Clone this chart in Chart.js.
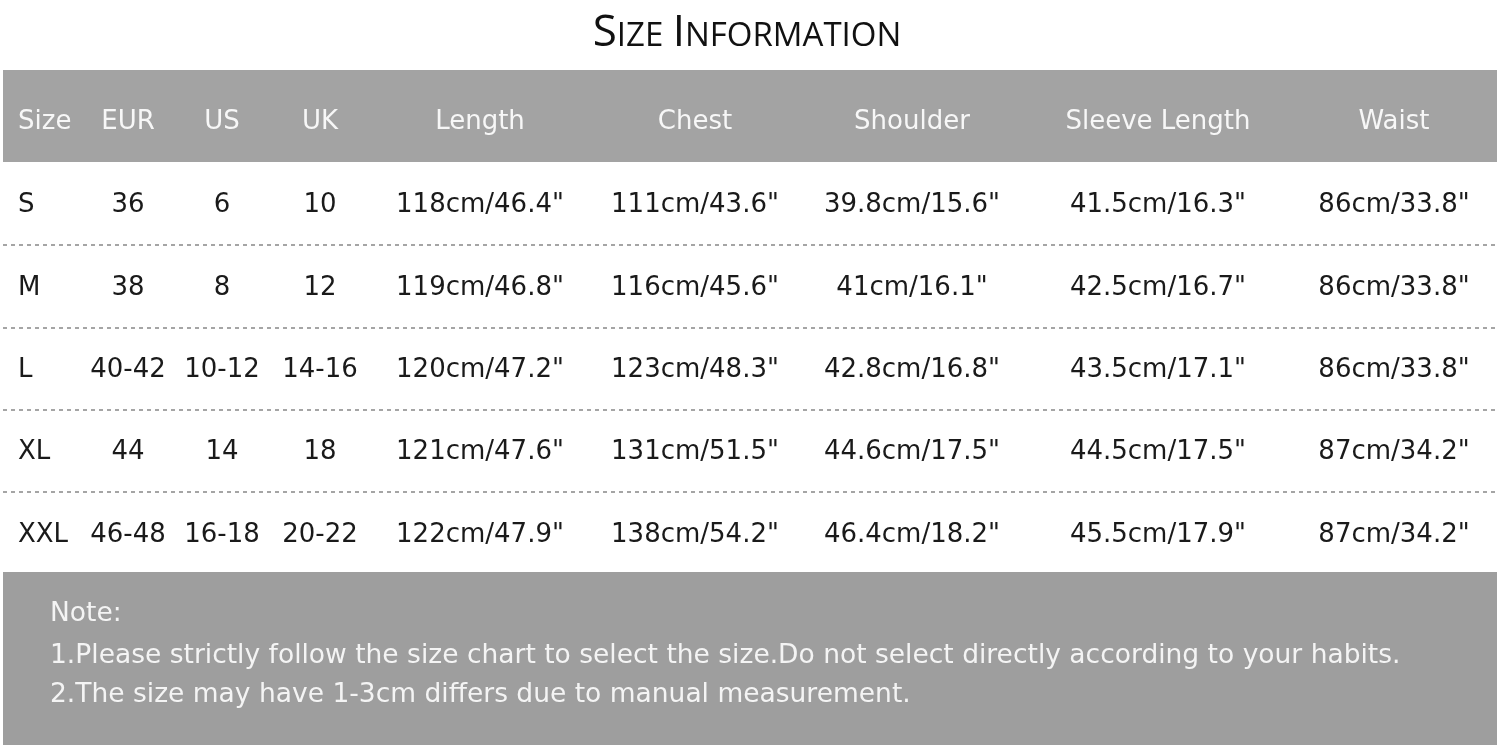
<!DOCTYPE html>
<html><head><meta charset="utf-8">
<script src="https://cdn.jsdelivr.net/npm/chart.js@4"></script>
<style>html,body{margin:0;padding:0;background:#fff}#c{display:block}</style>
</head><body>
<div style="width:1500px;height:749px"><canvas id="c"></canvas></div>
<script>
const title = "Size Information";
const headers = ["Size","EUR","US","UK","Length","Chest","Shoulder","Sleeve Length","Waist"];
const sizes = ["S","M","L","XL","XXL"];
const eur = ["36","38","40-42","44","46-48"];
const us = ["6","8","10-12","14","16-18"];
const uk = ["10","12","14-16","18","20-22"];
const lengthCol = ['118cm/46.4"','119cm/46.8"','120cm/47.2"','121cm/47.6"','122cm/47.9"'];
const chest = ['111cm/43.6"','116cm/45.6"','123cm/48.3"','131cm/51.5"','138cm/54.2"'];
const shoulder = ['39.8cm/15.6"','41cm/16.1"','42.8cm/16.8"','44.6cm/17.5"','46.4cm/18.2"'];
const sleeve = ['41.5cm/16.3"','42.5cm/16.7"','43.5cm/17.1"','44.5cm/17.5"','45.5cm/17.9"'];
const waist = ['86cm/33.8"','86cm/33.8"','86cm/33.8"','87cm/34.2"','87cm/34.2"'];
const notes = ["Note:","1.Please strictly follow the size chart to select the size.Do not select directly according to your habits.","2.The size may have 1-3cm differs due to manual measurement."];

// layout (pixel-space positions on a 0..1500 x 0..749 scale)
const colX = [47,128,222,320,480,695,912,1158,1394];
const rowY = [205,288,370,452,535];
const sepY = [245,328,410,492];
const headerBand = [70,162];
const noteBand = [572,745];
const noteY = [614,656,695];

const columns = [sizes,eur,us,uk,lengthCol,chest,shoulder,sleeve,waist];

const tablePlugin = {
  id:'table',
  afterDraw(chart){
    const ctx = chart.ctx, xs = chart.scales.x, ys = chart.scales.y;
    const X = v=>xs.getPixelForValue(v), Y = v=>ys.getPixelForValue(v);
    ctx.save();
    ctx.fillStyle='#111'; ctx.textBaseline='alphabetic';
    const parts=[];
    title.split(' ').forEach((w,i)=>{
      if(i) parts.push([' ',36]);
      parts.push([w[0],44]); parts.push([w.slice(1).toUpperCase(),33]);
    });
    const tf=s=>`500 ${s}px "Open Sans"`;
    let tw=0; parts.forEach(p=>{ctx.font=tf(p[1]); tw+=ctx.measureText(p[0]).width;});
    let tx=X(747)-tw/2;
    parts.forEach(p=>{ctx.font=tf(p[1]); ctx.fillText(p[0],tx,Y(46)); tx+=ctx.measureText(p[0]).width;});
    ctx.fillStyle='#a3a3a3';
    ctx.fillRect(X(3),Y(headerBand[0]),X(1497)-X(3),Y(headerBand[1])-Y(headerBand[0]));
    ctx.fillStyle='#9e9e9e';
    ctx.fillRect(X(3),Y(noteBand[0]),X(1497)-X(3),Y(noteBand[1])-Y(noteBand[0]));
    ctx.font='26px "DejaVu Sans"'; ctx.textBaseline='middle';
    ctx.fillStyle='#f7f7f7';
    headers.forEach((h,i)=>{ctx.textAlign=i===0?'left':'center'; ctx.fillText(h,i===0?X(18):X(colX[i]),Y(122));});
    ctx.fillStyle='#1a1a1a';
    columns.forEach((col,i)=>col.forEach((v,r)=>{
      ctx.textAlign=i===0?'left':'center';
      ctx.fillText(v,i===0?X(18):X(colX[i]),Y(rowY[r]));
    }));
    ctx.strokeStyle='#888'; ctx.lineWidth=1.5; ctx.setLineDash([4,4]);
    sepY.forEach(y=>{ctx.beginPath();ctx.moveTo(X(3),Y(y));ctx.lineTo(X(1497),Y(y));ctx.stroke();});
    ctx.setLineDash([]);
    ctx.fillStyle='#f4f4f4'; ctx.textAlign='left'; ctx.font='26.5px "DejaVu Sans"';
    notes.forEach((n,i)=>ctx.fillText(n,X(50),Y(noteY[i])));
    ctx.restore();
  }
};

new Chart(document.getElementById('c'),{
  type:'scatter',
  data:{datasets:[{data:[],pointRadius:0}]},
  options:{
    responsive:true,maintainAspectRatio:false,animation:false,
    layout:{padding:0},
    plugins:{legend:{display:false},tooltip:{enabled:false}},
    scales:{
      x:{type:'linear',min:0,max:1500,display:false},
      y:{type:'linear',min:0,max:749,reverse:true,display:false}
    }
  },
  plugins:[tablePlugin]
});
</script>
</body></html>
